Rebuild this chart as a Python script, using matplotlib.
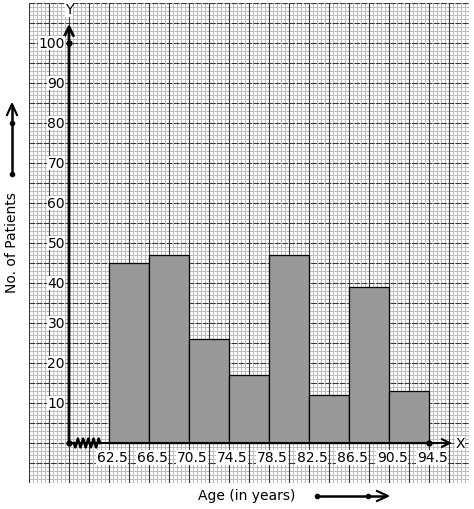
import numpy as np
import matplotlib.pyplot as plt

# histogram data
edges = [62.5, 66.5, 70.5, 74.5, 78.5, 82.5, 86.5, 90.5, 94.5]
patients = [45, 47, 26, 17, 47, 12, 39, 13]
y_ticks = [10, 20, 30, 40, 50, 60, 70, 80, 90, 100]

fig = plt.figure(figsize=(4.74, 5.1), dpi=100)
W, H = 474, 510
ax = fig.add_axes([29 / W, 26 / H, 440 / W, 480 / H])
x0, x1, y0, y1 = 54.5, 98.5, -10, 110
ax.set_xlim(x0, x1)
ax.set_ylim(y0, y1)
ax.axis('off')

# graph paper
for x in np.arange(x0, x1 + 0.01, 0.4):
    ax.axvline(x, color='#bdbdbd', lw=0.7, zorder=0)
for y in np.arange(y0, y1 + 0.01, 1):
    ax.axhline(y, color='#bdbdbd', lw=0.7, zorder=0)
for x in np.arange(x0, x1 + 0.01, 2):
    ax.axvline(x, color='#383838', lw=0.8, zorder=0.5)
for y in np.arange(y0, y1 + 0.01, 5):
    ax.axhline(y, color='#383838', lw=0.8, ls=(0, (5, 1.5)), zorder=0.5)

# bars
widths = np.diff(edges)
ax.bar(edges[:-1], patients, width=widths, align='edge', color='#999999',
       edgecolor='black', lw=0.9, zorder=2)

ox = 58.5
# axes with arrows
ax.annotate('', xy=(ox, 104.8), xytext=(ox, 0),
            arrowprops=dict(arrowstyle='->', lw=2, color='black',
                            mutation_scale=16, shrinkA=0, shrinkB=0), zorder=3)
ax.annotate('', xy=(96.8, 0), xytext=(ox, 0),
            arrowprops=dict(arrowstyle='->', lw=1.5, color='black',
                            mutation_scale=14, shrinkA=0, shrinkB=0), zorder=3)
ax.plot([ox, 94.5, ox], [0, 0, 100], 'o', color='black', ms=3.5, zorder=4)
# zigzag break
zx = np.linspace(59.0, 61.6, 21)
zy = np.tile([0, -1.1, 0, 1.1], 6)[:21]
ax.plot(zx, zy, color='black', lw=1.8, zorder=4)

ax.text(ox, 108.4, 'Y', ha='center', va='center', fontsize=10,
        bbox=dict(facecolor='white', edgecolor='none', pad=0.2), zorder=3)
ax.text(97.6, 0, 'X', ha='center', va='center', fontsize=10,
        bbox=dict(facecolor='white', edgecolor='none', pad=0.2), zorder=3)

for v in y_ticks:
    ax.text(ox - 0.4, v, str(v), ha='right', va='center', fontsize=10,
            bbox=dict(facecolor='white', edgecolor='none', pad=0.3), zorder=3)
for e in edges:
    ax.text(e + 0.3, -3.6, str(e), ha='center', va='center', fontsize=10,
            bbox=dict(facecolor='white', edgecolor='none', pad=0.3), zorder=3)

# axis titles with arrow marks
fig.text(247 / W, 1 - 496 / H, 'Age (in years)', ha='center', va='center', fontsize=10)
fig.text(12 / W, 1 - 243 / H, 'No. of Patients', ha='center', va='center',
         rotation=90, fontsize=10)
fig.add_artist(plt.Line2D([317 / W, 385 / W], [1 - 497 / H] * 2, color='black', lw=1.8))
fig.add_artist(plt.Line2D([317 / W, 368 / W], [1 - 497 / H] * 2, color='black',
                          marker='o', ms=3, ls='none'))
fig.add_artist(plt.Line2D([377 / W, 388 / W, 377 / W],
                          [1 - 492 / H, 1 - 497 / H, 1 - 502 / H], color='black', lw=1.5))
fig.add_artist(plt.Line2D([12 / W, 12 / W], [1 - 175 / H, 1 - 107 / H], color='black', lw=1.8))
fig.add_artist(plt.Line2D([12 / W, 12 / W], [1 - 175 / H, 1 - 124 / H], color='black',
                          marker='o', ms=3, ls='none'))
fig.add_artist(plt.Line2D([7 / W, 12 / W, 17 / W],
                          [1 - 116 / H, 1 - 105 / H, 1 - 116 / H], color='black', lw=1.5))

fig.savefig('out.png', dpi=100)
